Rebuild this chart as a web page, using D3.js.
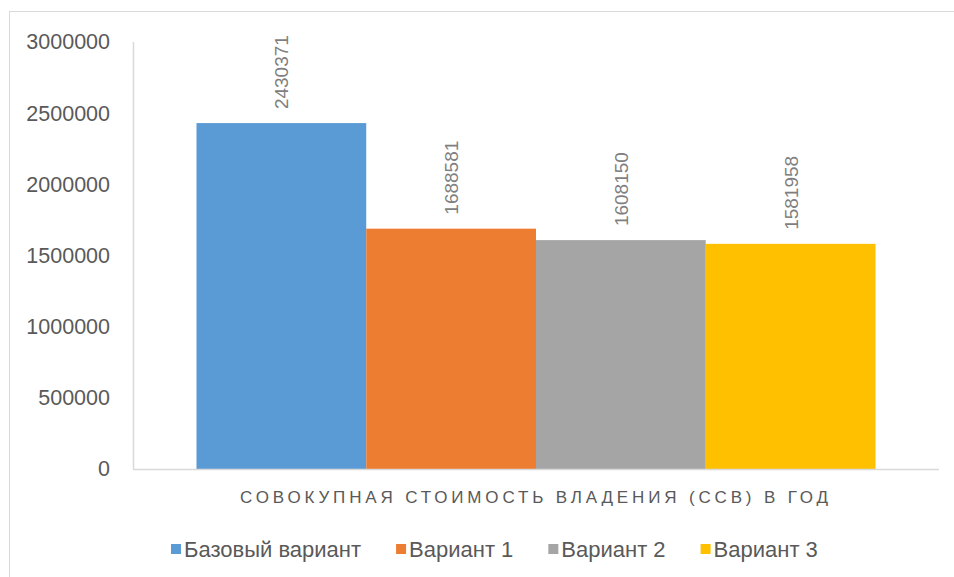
<!DOCTYPE html>
<html>
<head>
<meta charset="utf-8">
<script src="https://cdn.jsdelivr.net/npm/d3@7"></script>
<style>
  body { margin: 0; background: #fff; }
  svg { display: block; font-family: "Liberation Sans", Arial, sans-serif; }
</style>
</head>
<body>
<svg id="chart" width="954" height="577"></svg>
<script>
// data
const category = "Совокупная стоимость владения (ССВ) в год";
const series = ["Базовый вариант", "Вариант 1", "Вариант 2", "Вариант 3"];
const values = [2430371, 1688581, 1608150, 1581958];
const colors = ["#5b9bd5", "#ed7d31", "#a5a5a5", "#ffc000"];
const yTicks = [0, 500000, 1000000, 1500000, 2000000, 2500000, 3000000];

const svg = d3.select("#chart");

// outer chart frame (runs off the right and bottom edge)
svg.append("rect")
  .attr("x", 9.5).attr("y", 11.5)
  .attr("width", 1000).attr("height", 700)
  .attr("fill", "#fff")
  .attr("stroke", "#d9d9d9");

const plot = { left: 133, right: 939, top: 42, bottom: 469 };

const y = d3.scaleLinear()
  .domain([0, 3000000])
  .range([plot.bottom, plot.top]);

const xCat = d3.scaleBand()
  .domain([category])
  .range([plot.left, plot.right])
  .paddingOuter(0.0935);

const x = d3.scaleBand()
  .domain(series)
  .range([xCat(category), xCat(category) + xCat.bandwidth()]);

// y axis labels
const yAxis = svg.append("g")
  .attr("transform", `translate(${plot.left},0)`)
  .call(d3.axisLeft(y).tickValues(yTicks).tickSize(0).tickPadding(23).tickFormat(d3.format("d")));
yAxis.select(".domain").remove();
yAxis.selectAll("text")
  .attr("fill", "#595959")
  .style("font-size", "21.5px");

// bars
svg.append("g").selectAll("rect")
  .data(series)
  .join("rect")
  .attr("x", d => x(d))
  .attr("y", (d, i) => y(values[i]))
  .attr("width", x.bandwidth())
  .attr("height", (d, i) => y(0) - y(values[i]))
  .attr("fill", (d, i) => colors[i]);

// axis lines
svg.append("line")
  .attr("x1", plot.left + 0.5).attr("x2", plot.left + 0.5)
  .attr("y1", plot.top).attr("y2", plot.bottom)
  .attr("stroke", "#d9d9d9").attr("stroke-width", 1.5);
svg.append("line")
  .attr("x1", plot.left).attr("x2", plot.right)
  .attr("y1", plot.bottom + 0.5).attr("y2", plot.bottom + 0.5)
  .attr("stroke", "#d9d9d9").attr("stroke-width", 1.5);

// data labels, rotated
svg.append("g").selectAll("text")
  .data(series)
  .join("text")
  .attr("transform", (d, i) => `translate(${x(d) + x.bandwidth() / 2 + 7},${y(values[i]) - 14}) rotate(-90)`)
  .attr("text-anchor", "start")
  .attr("fill", "#7f7f7f")
  .style("font-size", "19px")
  .text((d, i) => values[i]);

// category title
svg.append("text")
  .attr("x", 240)
  .attr("y", 503)
  .attr("textLength", 588)
  .attr("lengthAdjust", "spacing")
  .attr("fill", "#595959")
  .style("font-size", "17px")
  .text(category.toUpperCase());

// legend
const legend = svg.append("g").attr("transform", "translate(171,549)");
let lx = 0;
series.forEach((s, i) => {
  const item = legend.append("g").attr("transform", `translate(${lx},0)`);
  item.append("rect")
    .attr("x", 0).attr("y", -5)
    .attr("width", 10).attr("height", 10)
    .attr("fill", colors[i]);
  const t = item.append("text")
    .attr("x", 13).attr("y", 8)
    .attr("fill", "#595959")
    .style("font-size", "22px")
    .text(s);
  lx += 13 + t.node().getComputedTextLength() + 35;
});
</script>
</body>
</html>
